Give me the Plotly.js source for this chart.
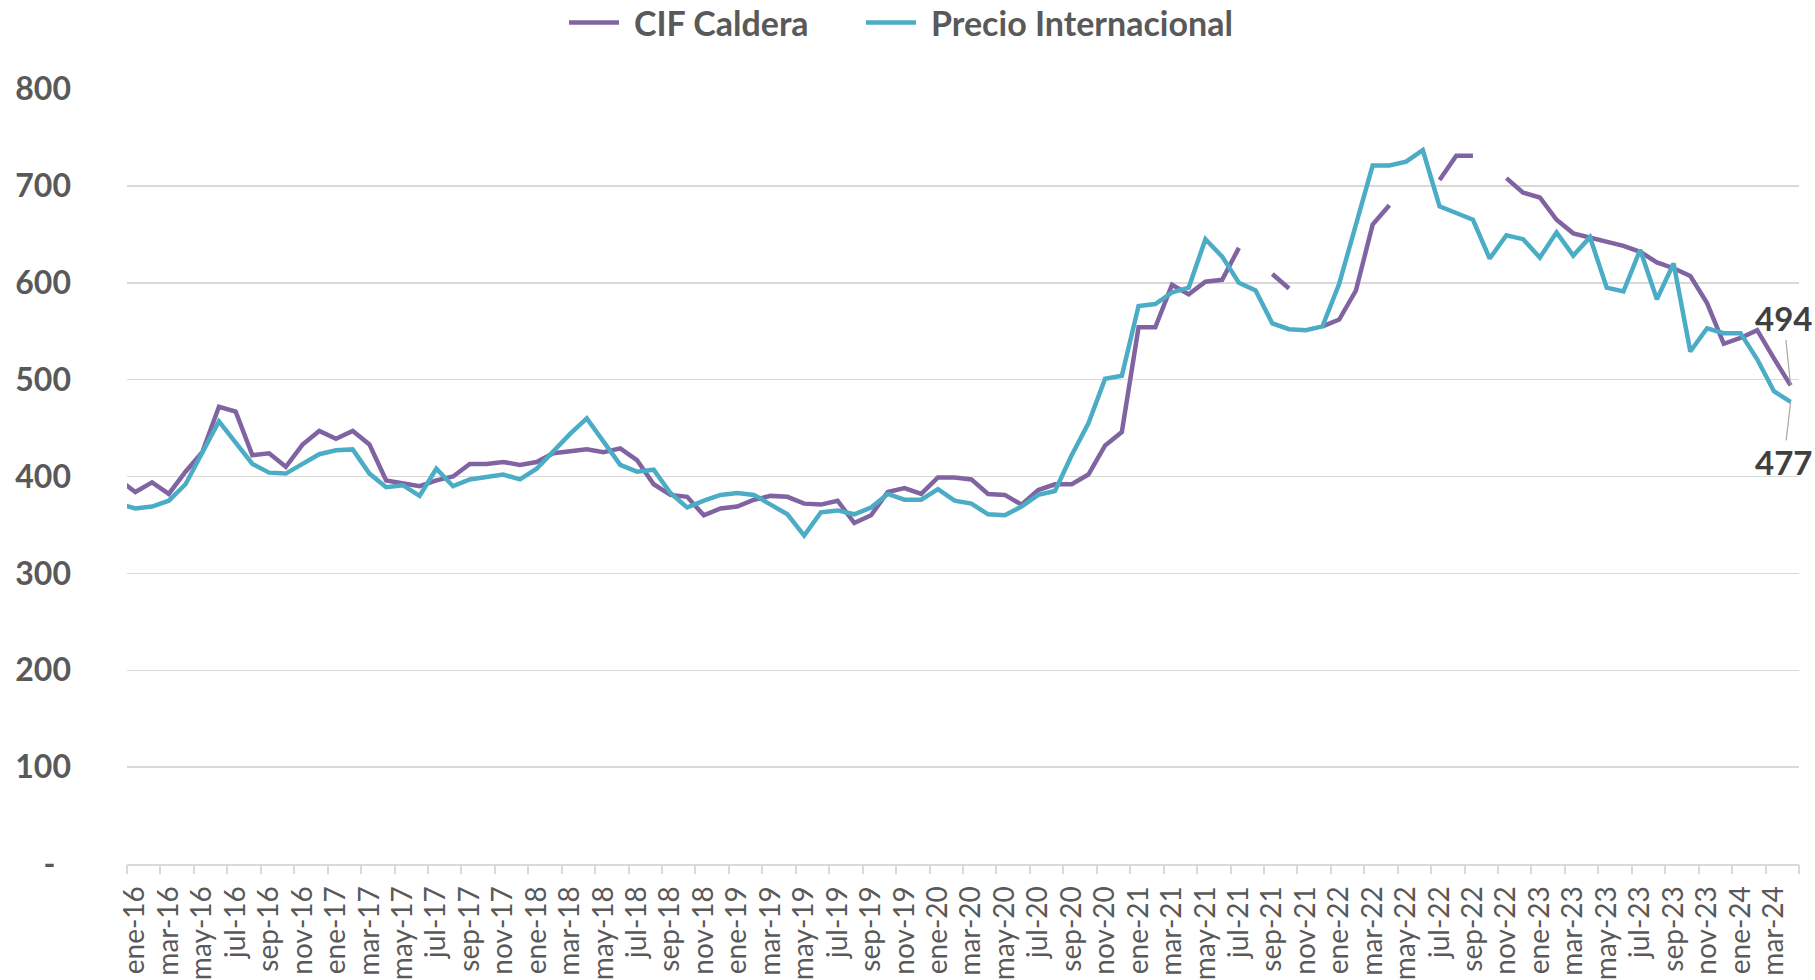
<!DOCTYPE html>
<html>
<head>
<meta charset="utf-8">
<script src="https://cdn.plot.ly/plotly-3.0.1.min.js"></script>
<style>
  html, body { margin: 0; padding: 0; background: #ffffff; }
  #chart { width: 1815px; height: 980px; }
</style>
</head>
<body>
<div id="chart"></div>
<script>
// Month categories (first one, dic-15, lies just left of the visible axis)
const months = [
  'dic-15',
  'ene-16','feb-16','mar-16','abr-16','may-16','jun-16','jul-16','ago-16','sep-16','oct-16','nov-16','dic-16',
  'ene-17','feb-17','mar-17','abr-17','may-17','jun-17','jul-17','ago-17','sep-17','oct-17','nov-17','dic-17',
  'ene-18','feb-18','mar-18','abr-18','may-18','jun-18','jul-18','ago-18','sep-18','oct-18','nov-18','dic-18',
  'ene-19','feb-19','mar-19','abr-19','may-19','jun-19','jul-19','ago-19','sep-19','oct-19','nov-19','dic-19',
  'ene-20','feb-20','mar-20','abr-20','may-20','jun-20','jul-20','ago-20','sep-20','oct-20','nov-20','dic-20',
  'ene-21','feb-21','mar-21','abr-21','may-21','jun-21','jul-21','ago-21','sep-21','oct-21','nov-21','dic-21',
  'ene-22','feb-22','mar-22','abr-22','may-22','jun-22','jul-22','ago-22','sep-22','oct-22','nov-22','dic-22',
  'ene-23','feb-23','mar-23','abr-23','may-23','jun-23','jul-23','ago-23','sep-23','oct-23','nov-23','dic-23',
  'ene-24','feb-24','mar-24','abr-24'
];

const cifCaldera = [
  397,
  384, 394, 382, 405, 425, 472, 467, 422, 424, 410, 433, 447,
  439, 447, 433, 396, 393, 390, 396, 400, 413, 413, 415, 412,
  415, 424, 426, 428, 425, 429, 417, 392, 381, 379, 360, 367,
  369, 376, 380, 379, 372, 371, 375, 352, 360, 384, 388, 382,
  399, 399, 397, 382, 381, 371, 386, 392, 392, 402, 432, 446,
  554, 554, 598, 588, 601, 603, 636, null, 609, 594, null, 555,
  562, 592, 660, 680, null, null, 706, 731, 731, null, 708, 693,
  688, 665, 651, 647, 643, 638, 632, 621, 615, 607, 579, 537,
  543, 551, 522, 494
];

const precioInternacional = [
  372,
  367, 369, 375, 392, 425, 457, 435, 413, 404, 403, 413, 423,
  427, 428, 403, 389, 391, 380, 408, 390, 397, 400, 402, 397,
  408, 426, 444, 460, 435, 412, 405, 407, 383, 368, 375, 381,
  383, 381, 371, 361, 339, 363, 365, 361, 368, 382, 376, 376,
  387, 375, 372, 361, 360, 369, 381, 385, 422, 455, 501, 504,
  576, 578, 590, 595, 645, 627, 600, 592, 558, 552, 551, 555,
  599, 660, 721, 721, 725, 737, 679, 672, 665, 625, 649, 645,
  626, 652, 628, 647, 595, 591, 634, 583, 620, 529, 553, 548,
  548, 521, 488, 477
];

const seriesNames = ['CIF Caldera', 'Precio Internacional'];
const yTickVals = [0, 100, 200, 300, 400, 500, 600, 700, 800];
const yTickText = ['-\u00a0\u00a0', '100', '200', '300', '400', '500', '600', '700', '800'];

// every second month label, starting at ene-16
const xTickLabels = months.filter((m, i) => i >= 1 && (i - 1) % 2 === 0);

const lastIdx = months.length - 1;
const firstVisible = 1;
const rangeX = [firstVisible - 0.5, lastIdx + 0.5];
// tick marks at category boundaries, every two months
const boundaryTicks = [];
for (let b = rangeX[0]; b <= rangeX[1] + 1e-9; b += 2) boundaryTicks.push(b);

const purple = '#8064A2';
const aqua = '#4BACC6';
const grey = '#595959';
const fontFam = 'Lato, "Open Sans", sans-serif';

const traces = [
  {
    x: months, y: cifCaldera, name: seriesNames[0], type: 'scatter', mode: 'lines',
    line: { color: purple, width: 4.5 }, connectgaps: false, hoverinfo: 'x+y',
    legend: 'legend'
  },
  {
    x: months, y: precioInternacional, name: seriesNames[1], type: 'scatter', mode: 'lines',
    line: { color: aqua, width: 4.5 }, connectgaps: false, hoverinfo: 'x+y',
    legend: 'legend2'
  },
  // empty helper trace so the boundary-tick axis gets drawn
  {
    x: [null], y: [null], xaxis: 'x2', yaxis: 'y', type: 'scatter', mode: 'lines',
    showlegend: false, hoverinfo: 'skip'
  }
];

const legendBase = {
  orientation: 'h', xref: 'container', yref: 'container',
  xanchor: 'left', y: 1 - 23 / 980, yanchor: 'middle',
  font: { family: fontFam, size: 34, color: grey, weight: 'bold' },
  itemwidth: 60, bgcolor: 'rgba(0,0,0,0)'
};

const layout = {
  width: 1815, height: 980,
  paper_bgcolor: '#ffffff', plot_bgcolor: '#ffffff',
  margin: { l: 127, r: 16, t: 89, b: 116 },
  showlegend: true,
  legend: Object.assign({}, legendBase, { x: 564 / 1815 }),
  legend2: Object.assign({}, legendBase, { x: 861 / 1815 }),
  xaxis: {
    type: 'category', categoryorder: 'array', categoryarray: months,
    range: rangeX, fixedrange: true,
    tickmode: 'array', tickvals: xTickLabels, ticktext: xTickLabels,
    tickangle: -90,
    tickfont: { family: fontFam, size: 28, color: grey },
    ticks: 'outside', ticklen: 9, tickcolor: 'rgba(0,0,0,0)',
    showgrid: false, zeroline: false,
    showline: true, linecolor: '#d9d9d9', linewidth: 2
  },
  xaxis2: {
    overlaying: 'x', anchor: 'y', side: 'bottom', type: 'linear',
    range: rangeX, fixedrange: true,
    tickmode: 'array', tickvals: boundaryTicks, showticklabels: false,
    ticks: 'outside', ticklen: 9, tickcolor: '#d9d9d9', tickwidth: 2,
    showgrid: false, zeroline: false, showline: false
  },
  yaxis: {
    range: [0, 800], fixedrange: true,
    tickmode: 'array', tickvals: yTickVals, ticktext: yTickText,
    tickfont: { family: fontFam, size: 32, color: grey, weight: 'bold' },
    ticklabelstandoff: 55,
    showgrid: true, gridcolor: '#d9d9d9', gridwidth: 1.5,
    zeroline: false, showline: false, ticks: ''
  },
  annotations: [
    {
      x: months[lastIdx], y: cifCaldera[lastIdx], xref: 'x', yref: 'y',
      text: String(cifCaldera[lastIdx]), showarrow: true, arrowhead: 0,
      arrowwidth: 1.2, arrowcolor: '#a6a6a6', ax: -7, ay: -67,
      font: { family: fontFam, size: 33, color: '#404040', weight: 'bold' }
    },
    {
      x: months[lastIdx], y: precioInternacional[lastIdx], xref: 'x', yref: 'y',
      text: String(precioInternacional[lastIdx]), showarrow: true, arrowhead: 0,
      arrowwidth: 1.2, arrowcolor: '#a6a6a6', ax: -7, ay: 60,
      font: { family: fontFam, size: 33, color: '#404040', weight: 'bold' }
    }
  ]
};

Plotly.newPlot('chart', traces, layout, { displayModeBar: false, staticPlot: true }).then(function () {
  // lengthen the legend line samples to look like the original legend keys
  document.querySelectorAll('.legendlines path').forEach(function (p) {
    p.setAttribute('d', 'M5,0h50');
  });
});
</script>
</body>
</html>
